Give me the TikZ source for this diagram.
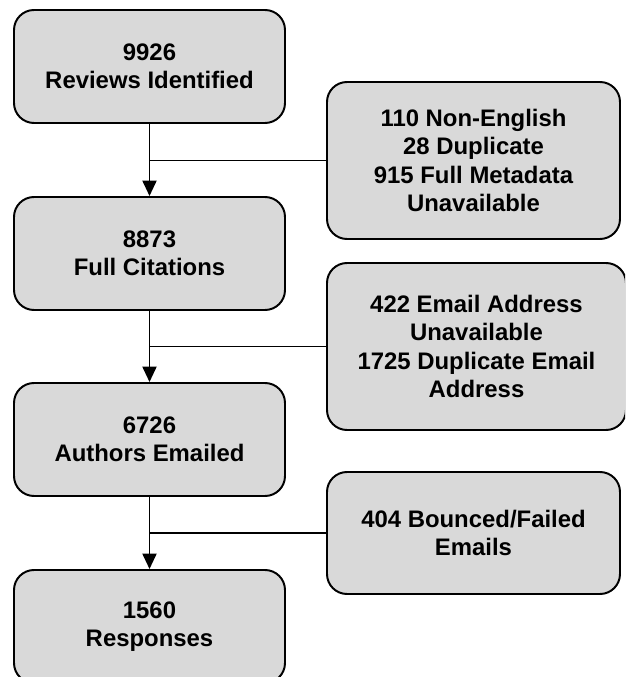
\documentclass[tikz,border=0pt]{standalone}
\usepackage{fontspec}
\setmainfont{Liberation Sans}
\usetikzlibrary{arrows.meta}
\tikzset{
    stage/.style={draw, line width=1.4pt, fill=black!15, rounded corners=0.5cm, align=center,
        font=\fontsize{17}{20}\selectfont\bfseries, inner sep=0pt,
        minimum width=6.775cm, minimum height=2.825cm},
    excluded/.style={stage, minimum width=7.325cm},
    flow/.style={line width=1.4pt, -{Triangle[width=10pt,length=11pt]}},
    branch/.style={line width=1.4pt}
}

\begin{document}
\begin{tikzpicture}
\useasboundingbox (0,0) rectangle (15.625,-16.925); % frame of the page
\begin{scope}
\clip (0,0) rectangle (15.625,-16.925);
\node[stage] (identified) at (3.7375,-1.6625) {9926\\Reviews Identified}; % first step
\node[stage] (citations) at (3.7375,-6.3375) {8873\\Full Citations};
\node[stage] (emailed) at (3.7375,-10.9875) {6726\\Authors Emailed};
\node[stage] (responses) at (3.7375,-15.6625) {1560\\Responses}; % last step, cut at the bottom
\node[excluded, minimum height=3.925cm] (nonenglish) at (11.8375,-4.0125) {110 Non-English\\28 Duplicate\\915 Full Metadata\\Unavailable};
\node[excluded, minimum width=7.475cm, minimum height=4.175cm] (noaddress) at (11.9125,-8.6625) {422 Email Address\\Unavailable\\1725 Duplicate Email\\Address};
\node[excluded, minimum height=3.05cm] (bounced) at (11.8375,-13.325) {404 Bounced/Failed\\Emails};
\draw[flow] (identified) -- (citations); % arrows down
\draw[flow] (citations) -- (emailed);
\draw[flow] (emailed) -- (responses);
\draw[branch] (nonenglish.west) -- (nonenglish.west -| identified.south); % side branches
\draw[branch] (noaddress.west) -- (noaddress.west -| citations.south);
\draw[branch] (bounced.west) -- (bounced.west -| emailed.south);
\end{scope}
\end{tikzpicture}
\end{document}
